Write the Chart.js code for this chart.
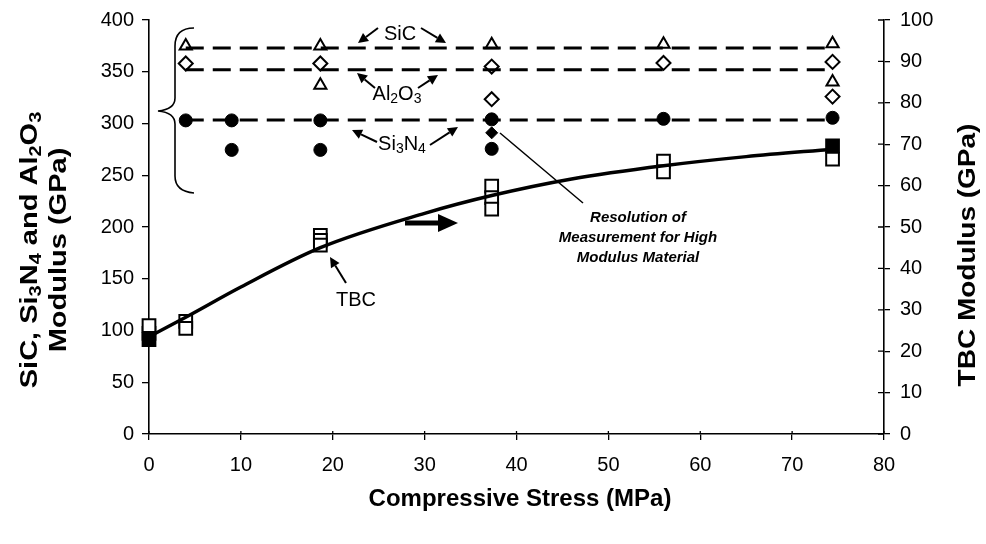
<!DOCTYPE html>
<html><head><meta charset="utf-8">
<script src="https://cdn.jsdelivr.net/npm/chart.js@4"></script>
<style>html,body{margin:0;padding:0;background:#fff;}</style>
</head><body>
<canvas id="c" width="986" height="544"></canvas>
<script>
// ---- data ----
const xTickValues = [0, 10, 20, 30, 40, 50, 60, 70, 80];
const leftTickValues = [0, 50, 100, 150, 200, 250, 300, 350, 400];
const rightTickValues = [0, 10, 20, 30, 40, 50, 60, 70, 80, 90, 100];

const sicX = [4, 18.65, 18.65, 37.3, 56, 74.4, 74.4];
const sicY = [375, 375, 337, 376, 376.5, 377, 340];
const alX = [4, 18.65, 37.3, 37.3, 56, 74.4, 74.4];
const alY = [358, 358, 355, 323.5, 358.5, 359.5, 326];
const siX = [4, 9, 9, 18.65, 18.65, 37.3, 37.3, 56, 74.4];
const siY = [303, 303, 274.5, 303, 274.5, 304, 275.5, 304.5, 305.5];
const resX = [37.3];
const resY = [291];
const avgX = [4, 74.4];
const sicAvg = [373, 373];
const alAvg = [352, 352];
const siAvg = [303.5, 303.5];
const tbcOpenX = [0, 4, 4, 18.65, 18.65, 18.65, 37.3, 37.3, 37.3, 56, 56, 74.4];
const tbcOpenY = [26.2, 27.2, 25.5, 48, 46.8, 45.6, 59.9, 57.1, 54.3, 65.9, 63.3, 66.4];
const tbcFillX = [0, 0, 74.4];
const tbcFillY = [24.3, 22.8, 69.6];
const fitX = [0, 4, 10, 18.65, 30, 37.3, 46, 56, 65, 74.4];
const fitY = [23.5, 28.2, 35.5, 45, 53.3, 57.6, 61.6, 64.8, 67, 68.8];

const pts = (xs, ys) => xs.map((x, i) => ({x: x, y: ys[i]}));
const FONT = "'Liberation Sans', Arial, sans-serif";

function richWidth(ctx, parts, size, weight, style) {
  let w = 0;
  for (const [t, sub] of parts) {
    ctx.font = (style || '') + ' ' + weight + ' ' + (sub ? Math.round(size * 0.68) : size) + 'px ' + FONT;
    w += ctx.measureText(t).width;
  }
  return w;
}
function drawRich(ctx, parts, cx, cy, size, weight, style) {
  const w = richWidth(ctx, parts, size, weight, style);
  let x = cx - w / 2;
  ctx.textBaseline = 'middle';
  ctx.textAlign = 'left';
  for (const [t, sub] of parts) {
    const s = sub ? Math.round(size * 0.68) : size;
    ctx.font = (style || '') + ' ' + weight + ' ' + s + 'px ' + FONT;
    ctx.fillText(t, x, cy + (sub ? size * 0.25 : 0));
    x += ctx.measureText(t).width;
  }
}
function arrow(ctx, x1, y1, x2, y2, lw, hl, hw) {
  const a = Math.atan2(y2 - y1, x2 - x1);
  const bx = x2 - hl * Math.cos(a), by = y2 - hl * Math.sin(a);
  ctx.lineWidth = lw;
  ctx.beginPath(); ctx.moveTo(x1, y1); ctx.lineTo(bx, by); ctx.stroke();
  ctx.beginPath();
  ctx.moveTo(x2, y2);
  ctx.lineTo(bx + hw * Math.sin(a), by - hw * Math.cos(a));
  ctx.lineTo(bx - hw * Math.sin(a), by + hw * Math.cos(a));
  ctx.closePath(); ctx.fill();
}
function vTitle(ctx, parts, cx, cy, size, cross) {
  ctx.save();
  ctx.translate(cx, cy); ctx.rotate(-Math.PI / 2); ctx.scale(1, cross);
  drawRich(ctx, parts, 0, 0, size, 'bold');
  ctx.restore();
}

const decor = {
  id: 'decor',
  afterDraw(chart) {
    const ctx = chart.ctx;
    const xs = chart.scales.x, yr = chart.scales.y2;
    const ca = chart.chartArea;
    ctx.save();
    ctx.fillStyle = '#000'; ctx.strokeStyle = '#000';
    // inner tick marks
    ctx.lineWidth = 1.3;
    ctx.beginPath();
    rightTickValues.forEach(v => { const y = yr.getPixelForValue(v); ctx.moveTo(ca.right - 6, y); ctx.lineTo(ca.right, y); });
    xTickValues.forEach(v => { const x = xs.getPixelForValue(v); ctx.moveTo(x, ca.bottom - 3); ctx.lineTo(x, ca.bottom); });
    ctx.stroke();

    // axis titles
    vTitle(ctx, [['SiC, Si', false], ['3', true], ['N', false], ['4', true], [' and Al', false], ['2', true], ['O', false], ['3', true]], 30, 250, 29, 0.85);
    vTitle(ctx, [['Modulus (GPa)', false]], 59, 250, 29, 0.85);
    vTitle(ctx, [['TBC Modulus (GPa)', false]], 968, 255, 28, 0.85);
    drawRich(ctx, [['Compressive Stress (MPa)', false]], 520, 499, 24, 'bold');

    // material labels with arrows
    drawRich(ctx, [['SiC', false]], 400, 34, 20, 'normal');
    arrow(ctx, 378, 28, 358, 43, 2, 10, 5);
    arrow(ctx, 421, 28, 446, 43, 2, 10, 5);
    drawRich(ctx, [['Al', false], ['2', true], ['O', false], ['3', true]], 397, 94, 20, 'normal');
    arrow(ctx, 375, 88, 357, 73, 2, 10, 5);
    arrow(ctx, 418, 88, 438, 75, 2, 10, 5);
    drawRich(ctx, [['Si', false], ['3', true], ['N', false], ['4', true]], 402, 144, 20, 'normal');
    arrow(ctx, 377, 142, 352, 130, 2, 10, 5);
    arrow(ctx, 430, 145, 458, 127, 2, 10, 5);
    drawRich(ctx, [['TBC', false]], 356, 300, 20, 'normal');
    arrow(ctx, 346, 283, 330, 257, 2, 10, 5);
    // thick right-pointing arrow (TBC uses right axis)
    arrow(ctx, 405, 223, 458, 223, 5, 20, 9);

    // brace
    ctx.lineWidth = 1.6;
    ctx.beginPath();
    ctx.moveTo(194, 28);
    ctx.bezierCurveTo(182, 28, 175, 34, 175, 46);
    ctx.lineTo(175, 98);
    ctx.bezierCurveTo(175, 106, 168, 110, 158, 111);
    ctx.bezierCurveTo(168, 112, 175, 116, 175, 124);
    ctx.lineTo(175, 176);
    ctx.bezierCurveTo(175, 187, 182, 192, 194, 193);
    ctx.stroke();

    // resolution annotation
    ctx.lineWidth = 1.5;
    ctx.beginPath(); ctx.moveTo(500, 133); ctx.lineTo(583, 203); ctx.stroke();
    drawRich(ctx, [['Resolution of', false]], 638, 218, 15, 'bold', 'italic');
    drawRich(ctx, [['Measurement for High', false]], 638, 238, 15, 'bold', 'italic');
    drawRich(ctx, [['Modulus Material', false]], 638, 258, 15, 'bold', 'italic');
    ctx.restore();
  }
};

const tickFont = {family: FONT, size: 20};
const chart = new Chart(document.getElementById('c'), {
  type: 'scatter',
  data: {
    datasets: [
      {label: 'SiC avg', data: pts(avgX, sicAvg), yAxisID: 'y', showLine: true, borderColor: '#000', borderWidth: 3, borderDash: [18, 9], pointRadius: 0},
      {label: 'Al2O3 avg', data: pts(avgX, alAvg), yAxisID: 'y', showLine: true, borderColor: '#000', borderWidth: 3, borderDash: [18, 9], pointRadius: 0},
      {label: 'Si3N4 avg', data: pts(avgX, siAvg), yAxisID: 'y', showLine: true, borderColor: '#000', borderWidth: 3, borderDash: [18, 9], pointRadius: 0},
      {label: 'TBC fit', data: pts(fitX, fitY), yAxisID: 'y2', showLine: true, borderColor: '#000', borderWidth: 3.5, pointRadius: 0, cubicInterpolationMode: 'monotone'},
      {label: 'SiC', data: pts(sicX, sicY), yAxisID: 'y', pointStyle: 'triangle', pointRadius: 7, backgroundColor: '#fff', borderColor: '#000', borderWidth: 2},
      {label: 'Al2O3', data: pts(alX, alY), yAxisID: 'y', pointStyle: 'rectRot', pointRadius: 7, backgroundColor: '#fff', borderColor: '#000', borderWidth: 2},
      {label: 'Si3N4', data: pts(siX, siY), yAxisID: 'y', pointStyle: 'circle', pointRadius: 6.5, backgroundColor: '#000', borderColor: '#000', borderWidth: 1},
      {label: 'Resolution', data: pts(resX, resY), yAxisID: 'y', pointStyle: 'rectRot', pointRadius: 6, backgroundColor: '#000', borderColor: '#000', borderWidth: 1},
      {label: 'TBC', data: pts(tbcOpenX, tbcOpenY), yAxisID: 'y2', pointStyle: 'rect', pointRadius: 9, backgroundColor: '#fff', borderColor: '#000', borderWidth: 2},
      {label: 'TBC filled', data: pts(tbcFillX, tbcFillY), yAxisID: 'y2', pointStyle: 'rect', pointRadius: 9, backgroundColor: '#000', borderColor: '#000', borderWidth: 2}
    ]
  },
  options: {
    responsive: false,
    devicePixelRatio: 1,
    animation: false,
    clip: false,
    layout: {padding: {top: 20, left: 0, right: 0, bottom: 0}},
    plugins: {legend: {display: false}, tooltip: {enabled: false}},
    scales: {
      x: {
        type: 'linear', min: 0, max: 80,
        afterBuildTicks: s => { s.ticks = xTickValues.map(v => ({value: v})); },
        afterFit: s => { s.height = 110; s.paddingLeft = 0; s.paddingRight = 0; },
        ticks: {font: tickFont, color: '#000', padding: 13, maxRotation: 0},
        grid: {drawOnChartArea: false, color: '#000', tickLength: 6, lineWidth: 1.3},
        border: {color: '#000', width: 1.6}
      },
      y: {
        type: 'linear', position: 'left', min: 0, max: 400,
        afterBuildTicks: s => { s.ticks = leftTickValues.map(v => ({value: v})); },
        afterFit: s => { s.width = 149; s.paddingTop = 0; s.paddingBottom = 0; },
        ticks: {font: tickFont, color: '#000', padding: 8},
        grid: {drawOnChartArea: false, color: '#000', tickLength: 7, lineWidth: 1.3},
        border: {color: '#000', width: 1.6}
      },
      y2: {
        type: 'linear', position: 'right', min: 0, max: 100,
        afterBuildTicks: s => { s.ticks = rightTickValues.map(v => ({value: v})); },
        afterFit: s => { s.width = 102; s.paddingTop = 0; s.paddingBottom = 0; },
        ticks: {font: tickFont, color: '#000', padding: 10},
        grid: {drawOnChartArea: false, color: '#000', tickLength: 6, lineWidth: 1.3},
        border: {color: '#000', width: 1.6}
      }
    }
  },
  plugins: [decor]
});
</script>
</body></html>
